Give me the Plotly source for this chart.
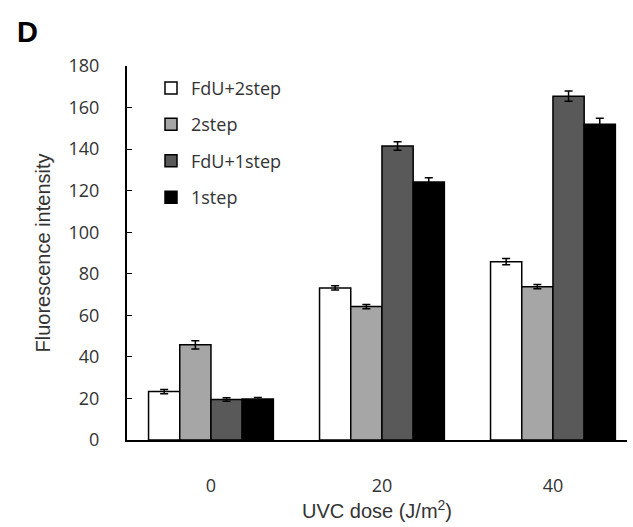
import plotly.graph_objects as go

categories = ["0", "20", "40"]
series_names = ["FdU+2step", "2step", "FdU+1step", "1step"]
fdu2 = [23.3, 73.2, 85.8]
step2 = [45.8, 64.2, 73.8]
fdu1 = [19.5, 141.5, 165.5]
step1 = [19.7, 124.2, 152]
err_fdu2 = [1.0, 1.0, 1.5]
err_step2 = [2.0, 1.0, 1.0]
err_fdu1 = [0.8, 2.0, 2.5]
err_step1 = [0.8, 2.0, 2.8]
colors = ["#ffffff", "#a6a6a6", "#595959", "#000000"]
yticks = list(range(0, 181, 20))

fig = go.Figure()
for i, (name, vals, errs, col) in enumerate(zip(series_names, [fdu2, step2, fdu1, step1],
                                 [err_fdu2, err_step2, err_fdu1, err_step1], colors)):
    fig.add_trace(go.Bar(
        x=categories, y=vals, name=name, legendgroup=f"g{i}",
        marker=dict(color=col, line=dict(color="black", width=1.5)),
        error_y=dict(type="data", array=errs, visible=True, color="black",
                     thickness=1.5, width=4),
    ))

fig.update_layout(
    width=633, height=527,
    margin=dict(l=127, r=6, t=66, b=87),
    paper_bgcolor="white", plot_bgcolor="white",
    barmode="group", bargap=0.27, bargroupgap=0,
    font=dict(family="Open Sans, Liberation Sans, sans-serif", color="#333", size=14),
    showlegend=True,
    legend=dict(x=0.048, y=0.99, xanchor="left", yanchor="top",
                bgcolor="rgba(0,0,0,0)", font=dict(size=18, color="#333"),
                tracegroupgap=10, itemwidth=30),
    xaxis=dict(showline=True, linecolor="black", linewidth=2, ticks="",
               range=[-0.491, 2.433], ticklabelstandoff=28,
               tickfont=dict(size=18),
               title=dict(text="UVC dose (J/m<sup>2</sup>)",
                          font=dict(size=20, family="Liberation Sans, Arial, sans-serif"),
                          standoff=4),
               showgrid=False),
    yaxis=dict(range=[0, 180], tickvals=yticks, showline=True, linecolor="black",
               linewidth=2, ticks="inside", ticklen=5, tickcolor="black",
               ticklabelstandoff=22,
               tickfont=dict(size=18), showgrid=False, zeroline=False,
               title=dict(text="Fluorescence intensity",
                          font=dict(size=20, family="Liberation Sans, Arial, sans-serif"),
                          standoff=13)),
)
fig.add_annotation(text="<b>D</b>", xref="paper", yref="paper",
                   x=-(127 - 27) / 500, y=1 + (66 - 32) / 374,
                   xanchor="center", yanchor="middle", showarrow=False,
                   font=dict(size=29, color="black", family="Liberation Sans, Arial, sans-serif"))
fig.write_html("out.html")
